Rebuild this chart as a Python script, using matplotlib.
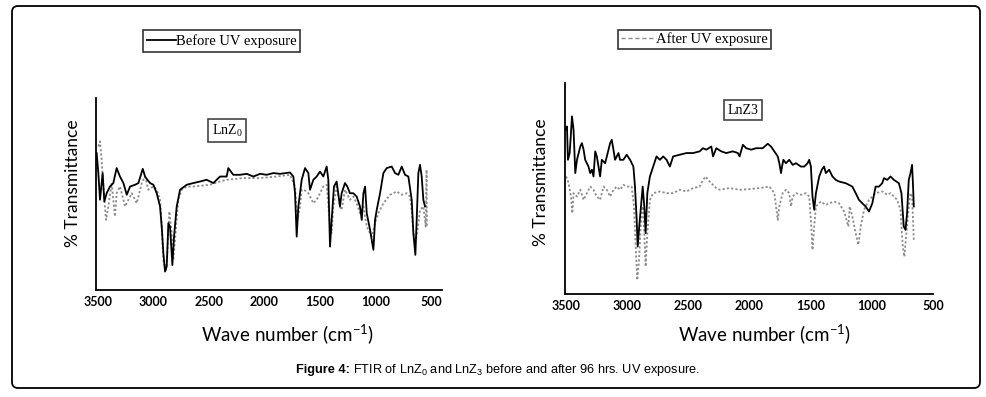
import matplotlib
matplotlib.use("Agg")
import matplotlib.pyplot as plt
from matplotlib.lines import Line2D
from matplotlib.patches import FancyBboxPatch
from matplotlib.transforms import IdentityTransform

plt.rcParams['mathtext.fontset'] = 'custom'
plt.rcParams['mathtext.rm'] = 'Liberation Sans'
plt.rcParams['mathtext.bf'] = 'Liberation Sans:bold'

# LnZ0 spectra (wave number, % transmittance in arbitrary units)
lnz0_before_wn = [3512, 3497, 3482, 3458, 3443, 3422, 3392, 3362, 3332, 3302, 3271, 3241, 3211,
                  3166, 3136, 3097, 3076, 3055, 3031, 3001, 2971, 2941, 2926, 2911, 2896, 2881,
                  2866, 2851, 2830, 2815, 2791, 2761, 2701, 2641, 2581, 2521, 2461, 2401, 2341,
                  2326, 2281, 2220, 2160, 2100, 2040, 1980, 1920, 1860, 1770, 1740, 1725, 1710,
                  1695, 1665, 1635, 1605, 1590, 1560, 1530, 1500, 1470, 1440, 1425, 1410, 1395,
                  1374, 1350, 1320, 1305, 1275, 1254, 1230, 1200, 1170, 1140, 1124, 1109, 1094,
                  1079, 1049, 1019, 1004, 989, 959, 929, 899, 854, 824, 794, 764, 734, 704, 674,
                  659, 641, 629, 614, 599, 584, 569, 554]
lnz0_before_t = [71.3, 60.9, 47.0, 60.9, 46.1, 50.4, 53.9, 55.7, 63.5, 59.1, 55.7, 49.6, 53.9,
                 54.8, 55.7, 63.1, 59.1, 57.4, 55.7, 54.8, 50.4, 43.5, 33.0, 19.1, 9.6, 12.2,
                 34.8, 33.0, 13.0, 27.8, 43.5, 52.2, 54.8, 55.7, 56.5, 57.4, 55.7, 59.1, 59.1,
                 63.5, 60.0, 60.0, 60.5, 59.1, 60.5, 60.0, 60.9, 60.5, 61.2, 59.1, 50.4, 27.8,
                 43.5, 57.4, 63.5, 60.9, 52.2, 57.4, 59.1, 61.7, 59.1, 64.3, 57.4, 22.6, 36.5,
                 53.9, 56.5, 43.5, 50.4, 55.7, 53.9, 50.4, 50.4, 48.7, 43.5, 36.5, 50.4, 53.9,
                 40.0, 31.3, 20.9, 36.5, 41.7, 50.4, 60.9, 63.5, 64.3, 60.9, 60.0, 64.3, 60.0,
                 59.1, 47.0, 29.6, 18.3, 36.5, 60.9, 65.2, 59.1, 47.0, 43.5]

lnz0_after_wn = [3497, 3482, 3467, 3452, 3428, 3407, 3377, 3362, 3347, 3332, 3302, 3256, 3226,
                 3196, 3151, 3106, 3076, 3046, 3001, 2971, 2941, 2926, 2911, 2890, 2875, 2857,
                 2836, 2821, 2797, 2776, 2746, 2701, 2641, 2491, 2401, 2341, 2190, 2040, 1890,
                 1770, 1725, 1704, 1680, 1665, 1644, 1605, 1560, 1530, 1500, 1470, 1440, 1410,
                 1395, 1380, 1350, 1320, 1305, 1275, 1230, 1200, 1170, 1140, 1109, 1079, 1034,
                 1004, 974, 929, 869, 809, 764, 719, 689, 674, 653, 629, 599, 569, 548, 540, 537]
lnz0_after_t = [74.8, 77.4, 67.8, 53.9, 36.5, 43.5, 55.7, 47.0, 38.3, 50.4, 53.9, 43.5, 47.0,
                50.4, 45.2, 55.7, 59.1, 52.2, 53.9, 52.2, 47.0, 33.0, 15.7, 9.6, 19.1, 40.9,
                29.6, 15.7, 33.0, 47.0, 52.2, 53.9, 53.9, 54.8, 56.5, 57.4, 58.3, 58.3, 59.1,
                60.0, 53.9, 36.5, 43.5, 52.2, 52.2, 50.4, 45.2, 47.0, 50.4, 53.9, 54.8, 33.0,
                29.6, 43.5, 53.9, 43.5, 41.7, 52.2, 47.0, 48.7, 45.2, 40.0, 43.5, 33.0, 27.8,
                34.8, 40.0, 45.2, 49.6, 51.3, 49.6, 50.4, 48.7, 41.7, 26.1, 27.8, 41.7, 43.5,
                33.0, 62.6, 33.0]

# LnZ3 spectra
lnz3_before_wn = [3505, 3492, 3484, 3470, 3459, 3451, 3438, 3424, 3410, 3383, 3370, 3356, 3343,
                  3316, 3302, 3288, 3275, 3261, 3248, 3234, 3221, 3207, 3180, 3166, 3139, 3126,
                  3112, 3099, 3071, 3058, 3031, 3004, 2976, 2949, 2936, 2922, 2914, 2901, 2887,
                  2873, 2860, 2849, 2835, 2814, 2787, 2760, 2732, 2705, 2678, 2651, 2624, 2570,
                  2515, 2461, 2407, 2380, 2353, 2312, 2298, 2271, 2231, 2190, 2136, 2095, 2081,
                  2054, 2027, 1986, 1946, 1892, 1851, 1824, 1797, 1769, 1756, 1742, 1734, 1723,
                  1702, 1675, 1647, 1620, 1580, 1552, 1525, 1512, 1498, 1485, 1471, 1457, 1430,
                  1409, 1390, 1376, 1349, 1322, 1295, 1268, 1213, 1159, 1132, 1105, 1078, 1051,
                  1023, 996, 969, 942, 915, 901, 874, 847, 820, 779, 758, 739, 725, 712, 698,
                  684, 671, 663, 657]
lnz3_before_t = [77.8, 79.4, 63.6, 66.8, 76.3, 84.2, 77.8, 57.3, 63.6, 69.9, 71.5, 68.4, 63.6,
                 60.4, 57.3, 58.9, 55.7, 67.6, 65.2, 60.4, 55.7, 63.6, 62.0, 65.2, 71.5, 73.1,
                 68.4, 63.6, 66.8, 63.6, 63.6, 66.0, 63.6, 60.4, 50.9, 35.1, 22.5, 32.0, 41.5,
                 50.9, 41.5, 28.8, 47.8, 55.7, 60.4, 65.2, 63.6, 65.2, 63.6, 60.4, 65.2, 66.0,
                 66.8, 66.8, 67.6, 69.1, 68.4, 69.9, 65.2, 69.1, 67.6, 66.8, 67.6, 66.8, 65.2,
                 70.7, 69.1, 68.4, 69.1, 69.1, 71.2, 69.9, 67.6, 65.2, 62.0, 57.3, 60.4, 63.6,
                 62.0, 63.6, 61.2, 62.0, 60.4, 60.4, 62.0, 63.6, 60.4, 46.2, 39.9, 47.8, 55.7,
                 58.9, 60.4, 57.3, 58.9, 55.7, 54.1, 53.3, 52.5, 50.9, 47.8, 44.6, 43.0, 41.5,
                 39.1, 43.0, 50.9, 50.9, 52.5, 54.9, 54.1, 55.7, 54.1, 52.5, 47.8, 32.0, 30.4,
                 38.3, 54.1, 57.3, 61.2, 50.9, 41.5]

lnz3_after_wn = [3500, 3486, 3473, 3459, 3448, 3438, 3410, 3383, 3356, 3329, 3302, 3275, 3248,
                 3221, 3207, 3193, 3166, 3139, 3112, 3085, 3058, 3031, 3004, 2963, 2944, 2928,
                 2917, 2903, 2887, 2873, 2860, 2849, 2835, 2814, 2787, 2732, 2678, 2624, 2570,
                 2515, 2461, 2407, 2380, 2358, 2339, 2298, 2271, 2244, 2163, 2081, 2000, 1919,
                 1837, 1797, 1783, 1769, 1756, 1729, 1702, 1675, 1661, 1647, 1620, 1580, 1539,
                 1512, 1498, 1485, 1471, 1457, 1417, 1376, 1349, 1308, 1268, 1227, 1192, 1181,
                 1159, 1132, 1110, 1091, 1064, 1023, 969, 915, 874, 847, 820, 793, 766, 747,
                 734, 720, 698, 684, 671, 657]
lnz3_after_t = [55.7, 54.1, 50.9, 46.2, 38.3, 47.8, 46.2, 49.4, 44.6, 47.8, 50.9, 49.4, 46.2,
                44.6, 47.8, 50.9, 49.4, 46.2, 49.4, 50.9, 49.4, 51.7, 50.9, 50.9, 41.5, 19.3,
                6.6, 16.1, 35.1, 41.5, 28.8, 13.0, 28.8, 44.6, 47.8, 48.6, 47.8, 47.8, 49.4,
                48.6, 50.2, 50.9, 54.1, 55.7, 54.1, 51.7, 50.2, 49.4, 50.2, 49.4, 49.7, 50.2,
                50.9, 47.8, 41.5, 35.1, 41.5, 47.8, 49.4, 47.8, 41.5, 46.2, 47.8, 47.0, 47.8,
                46.2, 35.1, 20.9, 32.0, 41.5, 43.8, 42.2, 43.0, 43.8, 43.0, 39.1, 32.0, 41.5,
                36.7, 28.8, 23.3, 32.0, 39.9, 44.6, 47.8, 48.6, 47.0, 47.8, 46.2, 44.6, 39.9,
                22.5, 17.7, 27.2, 41.5, 47.8, 46.2, 25.6]

xticks = [3500, 3000, 2500, 2000, 1500, 1000, 500]
W, H = 987, 397

fig = plt.figure(figsize=(W / 100, H / 100), dpi=100)

solid_kw = dict(color='black', lw=1.3)
dot_kw = dict(color='#8c8c8c', lw=1.3, ls=(0, (1.2, 1.2)))


def make_axes(rect, xlim, ylab_x, ylab_y, xlab_x, xpad):
    ax = fig.add_axes(rect)
    ax.set_xlim(*xlim)
    ax.set_ylim(0, 100)
    for s in ['top', 'right']:
        ax.spines[s].set_visible(False)
    for s in ['left', 'bottom']:
        ax.spines[s].set_linewidth(1.3)
    ax.set_yticks([])
    ax.set_xticks(xticks)
    ax.tick_params(axis='x', length=0, pad=4, labelsize=9)
    for lab in ax.get_xticklabels():
        lab.set_fontfamily('Lato')
        lab.set_fontweight('bold')
    ax.set_ylabel('% Transmittance', fontfamily='Lato', fontsize=12.5)
    ax.yaxis.set_label_coords(ylab_x, ylab_y)
    ax.set_xlabel(r'Wave number (cm$^{\mathregular{-1}}$)', fontfamily='Lato',
                  fontsize=13.5, labelpad=xpad)
    ax.xaxis.label.set_x(xlab_x)
    return ax


# left panel: LnZ0
ax1 = make_axes([96 / W, 1 - 290 / H, 346 / W, 192 / H], (3518, 401),
                -0.042, 0.557, 0.555, 11)
ax1.plot(lnz0_after_wn, lnz0_after_t, **dot_kw)
ax1.plot(lnz0_before_wn, lnz0_before_t, **solid_kw)
ax1.text(0.378, 0.83, r'LnZ$_{\mathregular{0}}$', transform=ax1.transAxes,
         fontfamily='Liberation Serif', fontsize=10, ha='center', va='center',
         bbox=dict(boxstyle='square,pad=0.25', fc='white', ec='#444444', lw=1.2))
leg1 = ax1.legend(handles=[Line2D([], [], **solid_kw)], labels=['Before UV exposure'],
                  loc='center', bbox_to_anchor=(221.5 / W, 1 - 41 / H),
                  bbox_transform=fig.transFigure, frameon=True, fancybox=False,
                  handlelength=2.0, handletextpad=0.0, borderpad=0.25, borderaxespad=0,
                  prop={'family': 'Liberation Serif', 'size': 10.5})
leg1.get_frame().set_edgecolor('black')
leg1.get_frame().set_linewidth(1.2)

# right panel: LnZ3
ax2 = make_axes([565 / W, 1 - 294 / H, 368 / W, 211 / H], (3508, 508),
                -0.043, 0.53, 0.543, 8)
ax2.plot(lnz3_after_wn, lnz3_after_t, **dot_kw)
ax2.plot(lnz3_before_wn, lnz3_before_t, **solid_kw)
ax2.text(0.483, 0.87, 'LnZ3', transform=ax2.transAxes,
         fontfamily='Liberation Serif', fontsize=10, ha='center', va='center',
         bbox=dict(boxstyle='square,pad=0.25', fc='white', ec='#444444', lw=1.2))
leg2 = ax2.legend(handles=[Line2D([], [], color='#8c8c8c', lw=1.0, ls=(0, (3, 2)))],
                  labels=['After UV exposure'],
                  loc='center', bbox_to_anchor=(694.5 / W, 1 - 39.5 / H),
                  bbox_transform=fig.transFigure, frameon=True, fancybox=False,
                  handlelength=2.4, handletextpad=0.0, borderpad=0.2, borderaxespad=0,
                  prop={'family': 'Liberation Serif', 'size': 10.5})
leg2.get_frame().set_edgecolor('black')
leg2.get_frame().set_linewidth(1.2)

# caption: bold lead-in followed by regular text
fig.text(350 / W, 1 - 370 / H, 'Figure 4:', fontfamily='Liberation Sans',
         fontweight='bold', fontsize=9.2, ha='right', va='center')
fig.text(353 / W, 1 - 370 / H,
         r'FTIR of LnZ$_{\mathregular{0}}$ and LnZ$_{\mathregular{3}}$'
         r' before and after 96 hrs. UV exposure.',
         fontfamily='Liberation Sans', fontsize=9.2, ha='left', va='center')

# rounded outer frame
frame = FancyBboxPatch((12, 9), 968, 382, boxstyle='round,pad=0,rounding_size=6',
                       transform=IdentityTransform(), fill=False, ec='black', lw=1.3)
fig.add_artist(frame)

fig.savefig('out.png', dpi=100)
